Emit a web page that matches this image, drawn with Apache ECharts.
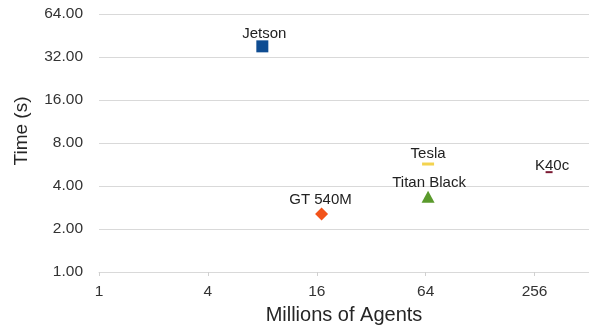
<!DOCTYPE html>
<html>
<head>
<meta charset="utf-8">
<script src="https://cdn.jsdelivr.net/npm/echarts@6/dist/echarts.min.js"></script>
<style>
  html, body { margin: 0; padding: 0; background: #fff; }
  #chart { width: 589px; height: 330px; }
</style>
</head>
<body>
<div id="chart"></div>
<script>
// Data
const devices = ["Jetson", "GT 540M", "Tesla", "Titan Black", "K40c"];
const agentsMillions = [8, 17, 66, 66, 308];
const timeSeconds = [38, 2.55, 5.7, 3.37, 5.0];
const xTickLabels = [1, 4, 16, 64, 256];
const yTickLabels = [1, 2, 4, 8, 16, 32, 64];

// Styles (kept separate from data)
const styles = {
  "Jetson":      { symbol: "rect", size: [12, 12], color: "#0e4c92", offset: [2, 2] },
  "GT 540M":     { symbol: "diamond", size: [13, 13], color: "#f2531a", offset: [-1, 1] },
  "Tesla":       { symbol: "rect", size: [12, 3], color: "#f3d34f", offset: [0, 0] },
  "Titan Black": { symbol: "triangle", size: [13, 12], color: "#5a9a2c", offset: [1, 1] },
  "K40c":        { symbol: "rect", size: [7, 2], color: "#7b1a33", offset: [3, 3] }
};

const FONT = 'Liberation Sans, Arial, sans-serif';
const chart = echarts.init(document.getElementById('chart'), null, { renderer: 'canvas' });

const series = devices.map((name, i) => {
  const s = styles[name];
  return {
    name: name,
    type: 'scatter',
    data: [[agentsMillions[i], timeSeconds[i]]],
    symbol: s.symbol,
    symbolSize: s.size,
    itemStyle: { color: s.color, opacity: 1 },
    emphasis: { disabled: true },
    label: {
      show: true,
      position: 'top',
      distance: 1,
      offset: s.offset,
      formatter: name,
      fontFamily: FONT,
      fontSize: 15,
      color: '#222222'
    },
    z: 3
  };
});

chart.setOption({
  animation: false,
  backgroundColor: '#ffffff',
  textStyle: { fontFamily: FONT },
  grid: { left: 99, right: 0, top: 14, bottom: 56, containLabel: false },
  xAxis: {
    type: 'log',
    logBase: 4,
    min: 1,
    max: 512,
    name: 'Millions of Agents',
    nameLocation: 'middle',
    nameGap: 33,
    nameTextStyle: { fontSize: 20, color: '#262626', fontFamily: FONT },
    axisLine: { show: true, lineStyle: { color: '#d9d9d9', width: 1 } },
    axisTick: { show: true, length: 4, lineStyle: { color: '#d0d0d0' } },
    axisLabel: {
      fontSize: 15.5,
      color: '#333333',
      margin: 12,
      showMaxLabel: false,
      formatter: function (v) {
        const r = Math.round(v);
        return xTickLabels.indexOf(r) >= 0 ? String(r) : '';
      }
    },
    splitLine: { show: false }
  },
  yAxis: {
    type: 'log',
    logBase: 2,
    min: 1,
    max: 64,
    name: 'Time (s)',
    nameLocation: 'middle',
    nameGap: 68,
    nameTextStyle: { fontSize: 19, color: '#262626', padding: [0, 0, 0, 24], fontFamily: FONT },
    axisLine: { show: false },
    axisTick: { show: false },
    axisLabel: {
      fontSize: 15.5,
      color: '#333333',
      margin: 16,
      formatter: function (v) {
        const r = Math.round(v);
        return yTickLabels.indexOf(r) >= 0 ? r.toFixed(2) : '';
      }
    },
    splitLine: { show: true, lineStyle: { color: '#d9d9d9', width: 1 } }
  },
  series: series
});
</script>
</body>
</html>
